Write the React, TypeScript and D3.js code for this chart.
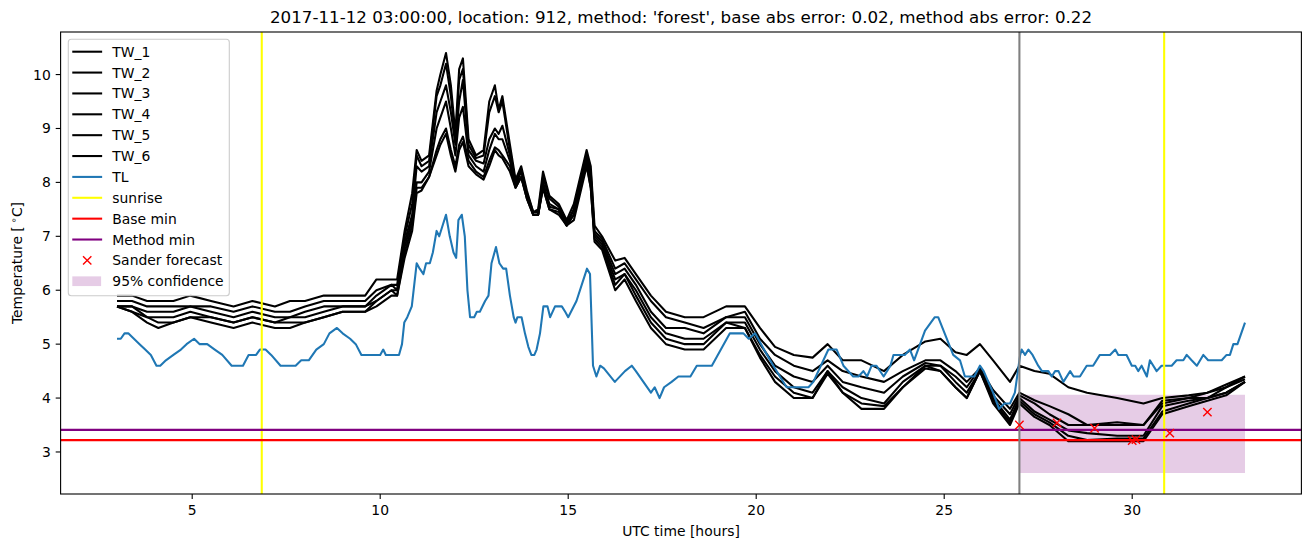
import React from 'react';
import * as d3 from 'd3';

// ---------- data ----------
const TW_TIMES = [3.0,3.4,3.8,4.1,4.5,4.95,5.5,6.1,6.6,7.2,7.6,8.0,8.5,9.0,9.6,9.9,10.3,10.45,10.65,10.85,10.97,11.1,11.3,11.5,11.6,11.75,11.88,12.0,12.1,12.2,12.35,12.55,12.75,12.9,13.05,13.15,13.25,13.45,13.6,13.75,13.9,14.07,14.2,14.33,14.5,14.75,14.96,15.15,15.49,15.6,15.7,15.9,16.25,16.5,16.8,17.2,17.6,18.1,18.6,19.2,19.7,20.1,20.5,21.0,21.5,21.9,22.3,22.8,23.4,23.9,24.5,24.9,25.3,25.6,25.95,26.3,26.75,27.0,27.4,27.8,28.3,28.8,29.6,30.3,30.8,31.5,32.0,32.5,33.0];

const TW_1 = [5.9,5.9,5.8,5.8,5.8,5.9,5.8,5.7,5.8,5.7, 5.8,5.8,5.9,5.9,5.9,6.2,6.2,6.2,7.1,7.8, 8.6,8.4,8.5,9.7,10.0,10.4,9.8,8.9,10.1,10.3, 8.8,8.5,8.6,9.5,9.8,9.35,9.6,8.7,8.05,8.3, 7.85,7.45,7.5,8.2,7.75,7.6,7.3,7.6,8.6,8.3, 7.2,7.0,6.55,6.6,6.3,5.9,5.6,5.5,5.5,5.7, 5.7,5.3,4.95,4.8,4.75,5.0,4.7,4.7,4.5,4.8, 5.05,5.1,4.85,4.8,5.0,4.7,4.3,4.6,4.5,4.45, 4.2,4.1,4.0,3.9,4.0,4.05,4.1,4.25,4.4];
const TW_2 = [5.8,5.8,5.7,5.7,5.7,5.7,5.7,5.6,5.7,5.6, 5.6,5.7,5.8,5.8,5.8,6.0,6.1,6.1,7.0,7.6, 8.5,8.3,8.4,9.6,9.8,10.2,9.6,8.8,9.9,10.1, 8.7,8.45,8.5,9.3,9.6,9.3,9.5,8.6,8.0,8.25, 7.8,7.45,7.45,8.1,7.7,7.55,7.25,7.5,8.5,8.2, 7.1,6.95,6.4,6.5,6.2,5.8,5.5,5.4,5.3,5.5, 5.6,5.1,4.8,4.6,4.5,4.7,4.5,4.4,4.3,4.5, 4.7,4.7,4.5,4.3,4.55,4.15,3.8,4.1,3.96,3.85, 3.7,3.5,3.55,3.5,3.95,4.0,4.1,4.2,4.4];
const TW_3 = [5.7,5.7,5.6,5.6,5.6,5.7,5.6,5.5,5.6,5.5, 5.5,5.6,5.7,5.7,5.7,5.9,6.1,6.0,6.9,7.4, 8.3,8.2,8.3,9.3,9.5,9.8,9.3,8.7,9.5,9.9, 8.6,8.4,8.35,8.8,9.0,8.9,9.05,8.5,7.95,8.2, 7.8,7.4,7.4,8.0,7.6,7.5,7.2,7.5,8.45,8.1, 7.05,6.9,6.3,6.4,6.1,5.6,5.3,5.3,5.2,5.5, 5.5,5.0,4.6,4.4,4.3,4.6,4.3,4.2,4.1,4.4, 4.65,4.6,4.4,4.2,4.55,4.05,3.7,4.05,3.9,3.7, 3.5,3.5,3.5,3.5,3.9,4.0,4.0,4.2,4.35];
const TW_4 = [5.7,5.7,5.5,5.5,5.5,5.6,5.5,5.4,5.5,5.4, 5.5,5.5,5.6,5.7,5.7,5.8,6.0,6.0,6.8,7.3, 8.0,8.0,8.2,9.0,9.2,9.5,9.0,8.5,9.2,9.4, 8.5,8.3,8.2,8.6,8.9,8.8,8.8,8.4,7.95,8.1, 7.75,7.4,7.4,7.95,7.55,7.5,7.2,7.4,8.4,8.0, 7.0,6.85,6.2,6.3,6.0,5.5,5.2,5.1,5.1,5.4, 5.4,4.9,4.5,4.2,4.1,4.5,4.2,4.0,3.9,4.3, 4.6,4.6,4.3,4.1,4.5,4.0,3.6,4.0,3.75,3.6, 3.4,3.35,3.3,3.3,3.85,3.95,4.0,4.1,4.3];
const TW_5 = [5.7,5.6,5.5,5.4,5.4,5.5,5.5,5.4,5.5,5.4, 5.4,5.4,5.5,5.6,5.6,5.8,6.0,5.9,6.7,7.2, 7.9,7.9,8.1,8.6,8.8,9.0,8.6,8.3,8.7,8.85, 8.4,8.2,8.1,8.4,8.65,8.6,8.5,8.3,7.9,8.1, 7.7,7.4,7.4,7.9,7.5,7.45,7.2,7.4,8.35,7.9, 6.95,6.8,6.1,6.3,5.9,5.4,5.1,5.0,5.0,5.4, 5.3,4.8,4.4,4.1,4.0,4.5,4.1,3.9,3.85,4.2, 4.6,4.5,4.2,4.0,4.5,3.95,3.55,3.95,3.7,3.55, 3.3,3.22,3.25,3.25,3.75,3.9,4.0,4.1,4.3];
const TW_6 = [5.7,5.6,5.4,5.3,5.4,5.5,5.4,5.3,5.4,5.3, 5.3,5.4,5.5,5.6,5.6,5.7,5.9,5.9,6.6,7.1, 7.8,7.85,8.1,8.5,8.7,8.9,8.5,8.2,8.6,8.75, 8.3,8.15,8.05,8.3,8.6,8.5,8.45,8.2,7.9,8.1, 7.7,7.4,7.4,7.9,7.5,7.4,7.2,7.3,8.3,7.9, 6.9,6.75,6.0,6.2,5.8,5.3,5.0,4.9,4.9,5.3, 5.3,4.75,4.3,4.0,4.0,4.45,4.1,3.8,3.8,4.2, 4.55,4.5,4.2,4.0,4.5,3.9,3.5,3.9,3.65,3.5, 3.2,3.2,3.2,3.2,3.7,3.85,3.95,4.05,4.3];

const TL_TIMES = [3.0,3.1,3.2,3.3,3.45,3.6,3.75,3.9,4.05,4.15,4.3,4.5,4.7,4.85,5.05,5.2,5.4,5.6,5.8,6.05,6.35,6.5,6.7,6.8,6.95,7.1,7.35,7.75,7.9,8.1,8.3,8.5,8.65,8.85,9.0,9.2,9.35,9.5,10.0,10.08,10.15,10.5,10.58,10.64,10.72,10.84,10.97,11.05,11.15,11.22,11.32,11.4,11.5,11.57,11.75,11.85,11.95,12.02,12.08,12.17,12.25,12.32,12.39,12.5,12.57,12.65,12.79,12.88,12.96,13.08,13.17,13.27,13.35,13.45,13.55,13.6,13.65,13.76,13.85,13.94,14.02,14.1,14.16,14.25,14.34,14.45,14.52,14.65,14.83,14.92,15.0,15.22,15.5,15.58,15.66,15.75,15.85,15.95,16.24,16.51,16.69,16.8,17.2,17.3,17.43,17.55,17.75,17.93,18.25,18.42,18.82,19.3,19.66,19.8,19.97,20.37,20.63,20.81,21.39,21.52,21.92,22.14,22.32,22.58,22.72,22.85,22.95,23.07,23.2,23.39,23.57,23.65,23.95,24.09,24.2,24.49,24.75,24.84,25.24,25.42,25.55,25.8,25.95,26.05,26.3,26.46,26.6,26.75,26.88,27.02,27.06,27.15,27.24,27.35,27.5,27.6,27.77,27.86,27.95,28.04,28.17,28.35,28.44,28.61,28.79,28.96,29.14,29.41,29.55,29.63,29.85,29.99,30.08,30.16,30.25,30.39,30.47,30.65,30.78,31.05,31.18,31.36,31.45,31.58,31.72,31.89,32.02,32.38,32.51,32.6,32.69,32.8,33.0];
const TL_VALUES = [5.1,5.1,5.2,5.2,5.1,5.0,4.9,4.8,4.6,4.6,4.7,4.8,4.9,5.0,5.1,5.0,5.0,4.9,4.8,4.6,4.6,4.8,4.8,4.9,4.9,4.8,4.6,4.6,4.7,4.7,4.9,5.0,5.2,5.3,5.2,5.1,5.0,4.8,4.8,4.9,4.8,4.8,5.0,5.4,5.5,5.7,6.5,6.4,6.3,6.5,6.5,6.7,7.1,7.0,7.4,7.0,6.7,6.6,7.3,7.4,7.0,6.0,5.5,5.5,5.6,5.6,5.8,5.9,6.5,6.8,6.5,6.4,6.4,5.9,5.5,5.4,5.5,5.5,5.2,4.95,4.8,4.8,4.9,5.2,5.7,5.7,5.5,5.7,5.7,5.6,5.5,5.8,6.4,6.3,4.6,4.4,4.6,4.55,4.3,4.5,4.6,4.5,4.1,4.2,4.0,4.2,4.3,4.4,4.4,4.6,4.6,5.2,5.2,5.1,5.2,4.7,4.4,4.2,4.2,4.3,4.9,4.9,4.6,4.4,4.4,4.5,4.4,4.6,4.6,4.4,4.6,4.8,4.8,4.9,4.7,5.25,5.5,5.5,4.8,4.7,4.4,4.4,4.6,4.5,4.1,3.8,3.9,3.9,4.1,4.8,4.9,4.8,4.9,4.8,4.6,4.5,4.5,4.4,4.5,4.5,4.3,4.5,4.4,4.4,4.6,4.6,4.8,4.8,4.9,4.8,4.8,4.6,4.6,4.5,4.6,4.4,4.7,4.5,4.6,4.6,4.7,4.7,4.8,4.7,4.6,4.8,4.7,4.7,4.8,4.8,5.0,5.0,5.4];

const SANDER_TIMES = [27, 28, 29, 30, 30.1, 31, 32];
const SANDER_VALUES = [3.5, 3.54, 3.44, 3.21, 3.23, 3.35, 3.74];

const SUNRISE = [6.85, 30.85];
const NOW_TIME = 27;
const BASE_MIN = 3.22;
const METHOD_MIN = 3.41;
const CONF_TIMES = [27, 33];
const CONF_LOW = [2.61, 2.61];
const CONF_HIGH = [4.06, 4.06];

const X_TICKS = [5, 10, 15, 20, 25, 30];
const Y_TICKS = [3, 4, 5, 6, 7, 8, 9, 10];

const TITLE = "2017-11-12 03:00:00, location: 912, method: 'forest', base abs error: 0.02, method abs error: 0.22";

const TW_SERIES = [
  { name: 'TW_1', values: TW_1 },
  { name: 'TW_2', values: TW_2 },
  { name: 'TW_3', values: TW_3 },
  { name: 'TW_4', values: TW_4 },
  { name: 'TW_5', values: TW_5 },
  { name: 'TW_6', values: TW_6 },
];

// ---------- layout ----------
const W = 1310, H = 547;
const L = 60.6, R = 1301.4, T = 32, B = 494;
const FONT = "'DejaVu Sans', sans-serif";
const FS = 13.9;
const TITLE_FS = 16.7;
const LW = 2.08;

export default function App() {
  const allX = [...TW_TIMES, ...TL_TIMES];
  const xmin = d3.min(allX)!, xmax = d3.max(allX)!;
  const xr = xmax - xmin;
  const allY = [...TW_1, ...TW_2, ...TW_3, ...TW_4, ...TW_5, ...TW_6, ...TL_VALUES, ...CONF_LOW, ...CONF_HIGH, ...SANDER_VALUES];
  const ymin = d3.min(allY)!, ymax = d3.max(allY)!;
  const yr = ymax - ymin;

  const x = d3.scaleLinear().domain([xmin - 0.05 * xr, xmax + 0.05 * xr]).range([L, R]);
  const y = d3.scaleLinear().domain([ymin - 0.05 * yr, ymax + 0.05 * yr]).range([B, T]);

  const line = d3.line<[number, number]>().x(d => x(d[0])).y(d => y(d[1]));
  const area = d3.area<number>()
    .x((_, i) => x(CONF_TIMES[i]))
    .y0((_, i) => y(CONF_LOW[i]))
    .y1((_, i) => y(CONF_HIGH[i]));

  const legendItems = [
    ...TW_SERIES.map(s => ({ label: s.name, kind: 'line', color: '#000000' })),
    { label: 'TL', kind: 'line', color: '#1f77b4' },
    { label: 'sunrise', kind: 'line', color: '#ffff00' },
    { label: 'Base min', kind: 'line', color: '#ff0000' },
    { label: 'Method min', kind: 'line', color: '#800080' },
    { label: 'Sander forecast', kind: 'marker', color: '#ff0000' },
    { label: '95% confidence', kind: 'patch', color: '#800080' },
  ];

  const lgX = 68.3, lgY = 39.3, lgW = 161, lgH = 256.4;
  const rowH = 20.87, row0 = 51.7;
  const hx0 = 73.3, hx1 = 101.1, tx = 112.3;
  const xm = 4.17;

  return (
    <svg width={W} height={H} style={{ position: 'absolute', left: 0, top: 0, background: '#fff' }}
      fontFamily={FONT}>
      <rect x={0} y={0} width={W} height={H} fill="#fff" />
      <defs>
        <clipPath id="plotclip"><rect x={L} y={T} width={R - L} height={B - T} /></clipPath>
      </defs>
      <g clipPath="url(#plotclip)">
        <path d={area([0, 1]) || ''} fill="#800080" fillOpacity={0.2} />
        {TW_SERIES.map(s => (
          <path key={s.name} d={line(TW_TIMES.map((t, i) => [t, s.values[i]] as [number, number])) || ''}
            fill="none" stroke="#000" strokeWidth={LW} strokeLinejoin="round" />
        ))}
        <path d={line(TL_TIMES.map((t, i) => [t, TL_VALUES[i]] as [number, number])) || ''}
          fill="none" stroke="#1f77b4" strokeWidth={LW} strokeLinejoin="round" />
        {SUNRISE.map((s, i) => (
          <line key={i} x1={x(s)} x2={x(s)} y1={T} y2={B} stroke="#ffff00" strokeWidth={LW} />
        ))}
        <line x1={L} x2={R} y1={y(BASE_MIN)} y2={y(BASE_MIN)} stroke="#ff0000" strokeWidth={LW} />
        <line x1={L} x2={R} y1={y(METHOD_MIN)} y2={y(METHOD_MIN)} stroke="#800080" strokeWidth={LW} />
        <line x1={x(NOW_TIME)} x2={x(NOW_TIME)} y1={T} y2={B} stroke="#808080" strokeWidth={LW} />
        {SANDER_TIMES.map((t, i) => (
          <path key={i}
            d={`M${x(t) - xm},${y(SANDER_VALUES[i]) - xm}L${x(t) + xm},${y(SANDER_VALUES[i]) + xm}M${x(t) - xm},${y(SANDER_VALUES[i]) + xm}L${x(t) + xm},${y(SANDER_VALUES[i]) - xm}`}
            stroke="#ff0000" strokeWidth={1.4} fill="none" />
        ))}
      </g>

      {/* axes frame */}
      <rect x={L} y={T} width={R - L} height={B - T} fill="none" stroke="#000" strokeWidth={1.1} />

      {/* x ticks */}
      {X_TICKS.map(t => (
        <g key={t}>
          <line x1={x(t)} x2={x(t)} y1={B} y2={B + 4.9} stroke="#000" strokeWidth={1.1} />
          <text x={x(t)} y={B + 20.5} fontSize={FS} textAnchor="middle" fill="#000">{t}</text>
        </g>
      ))}
      {/* y ticks */}
      {Y_TICKS.map(v => (
        <g key={v}>
          <line x1={L - 4.9} x2={L} y1={y(v)} y2={y(v)} stroke="#000" strokeWidth={1.1} />
          <text x={L - 9.8} y={y(v) + 5} fontSize={FS} textAnchor="end" fill="#000">{v}</text>
        </g>
      ))}

      <text x={(L + R) / 2} y={536} fontSize={FS} textAnchor="middle" fill="#000">UTC time [hours]</text>
      <text transform={`translate(22,${(T + B) / 2}) rotate(-90)`} fontSize={FS} textAnchor="middle" fill="#000">
        Temperature [<tspan fontSize={9.7} dy={-5}> ∘</tspan><tspan dy={5}>C]</tspan>
      </text>
      <text x={(L + R) / 2} y={23} fontSize={TITLE_FS} textAnchor="middle" fill="#000">{TITLE}</text>

      {/* legend */}
      <rect x={lgX} y={lgY} width={lgW} height={lgH} rx={3} ry={3} fill="#fff" fillOpacity={0.8} stroke="#cccccc" strokeWidth={1.1} />
      {legendItems.map((it, i) => {
        const cy = row0 + i * rowH;
        return (
          <g key={it.label}>
            {it.kind === 'line' && (
              <line x1={hx0} x2={hx1} y1={cy} y2={cy} stroke={it.color} strokeWidth={LW} strokeLinecap="square" />
            )}
            {it.kind === 'marker' && (
              <path d={`M${(hx0 + hx1) / 2 - xm},${cy - xm}L${(hx0 + hx1) / 2 + xm},${cy + xm}M${(hx0 + hx1) / 2 - xm},${cy + xm}L${(hx0 + hx1) / 2 + xm},${cy - xm}`}
                stroke={it.color} strokeWidth={1.4} fill="none" />
            )}
            {it.kind === 'patch' && (
              <rect x={hx0 - 1} y={cy - 4.9} width={hx1 - hx0 + 1} height={9.7} fill={it.color} fillOpacity={0.2} />
            )}
            <text x={tx} y={cy + 5} fontSize={FS} fill="#000">{it.label}</text>
          </g>
        );
      })}
    </svg>
  );
}
